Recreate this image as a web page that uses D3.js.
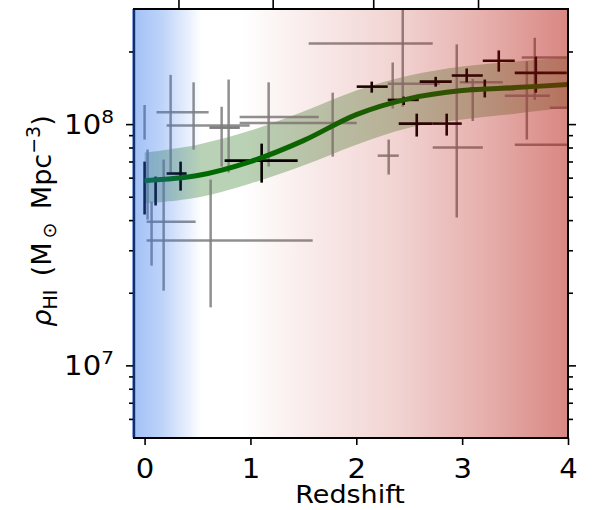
<!DOCTYPE html>
<html>
<head>
<meta charset="utf-8">
<script src="https://cdn.jsdelivr.net/npm/d3@7"></script>
<style>
body{margin:0;background:#fff}
text{font-family:"DejaVu Sans",sans-serif;fill:#000}
</style>
</head>
<body>
<svg id="chart" width="593" height="510"></svg>
<script>
// model curve + 1 sigma band (rho in units of 1e7 Msun/Mpc^3)
var curveZ   = [0, 0.5, 1.0, 1.5, 2.0, 2.5, 3.0, 3.5, 4.0];
var curveRho = [5.83, 6.12, 6.99, 8.54, 10.95, 12.76, 13.77, 14.17, 14.58];
var bandHi   = [7.62, 8.22, 9.40, 11.27, 13.77, 15.89, 17.31, 18.16, 18.87];
var bandLo   = [4.68, 4.96, 5.67, 6.73, 8.22, 9.67, 10.44, 11.05, 11.71];

// [z, zlo, zhi, rho, rholo, rhohi]
var greyPoints = [
  [0, 0, 0, 10.3, 8.63, 12.0],
  [0.028, 0.028, 0.028, 5.72, 4.02, 7.84],
  [0.066, 0.019, 0.482, 3.94, 2.59, 4.77],
  [0.18, 0.18, 0.18, 3.94, 2.04, 7.13],
  [0.246, 0.113, 0.605, 11.2, 6.30, 16.0],
  [0.463, 0.208, 0.992, 9.86, 7.84, 14.9],
  [0.624, 0.019, 1.588, 3.29, 1.74, 5.89],
  [0.728, 0.614, 0.898, 9.67, 6.67, 11.8],
  [0.794, 0.614, 0.898, 9.67, 6.30, 15.3],
  [1.172, 0.898, 1.645, 10.7, 6.67, 14.9],
  [1.777, 0.898, 2.004, 10.1, 7.33, 13.5],
  [2.439, 1.55, 2.722, 21.6, 11.8, 34.0],
  [2.344, 2.297, 2.788, 14.7, 11.6, 18.0],
  [2.306, 2.202, 2.401, 7.40, 6.18, 8.63],
  [2.949, 2.722, 3.195, 7.99, 4.10, 21.4],
  [3.1, 2.977, 3.384, 14.9, 10.3, 15.4],
  [3.611, 3.403, 3.828, 13.1, 8.63, 18.2],
  [3.686, 3.563, 3.989, 18.9, 12.6, 22.8],
  [3.743, 3.497, 4.2, 8.22, 8.22, 8.22],
  [4.05, 3.828, 4.3, 11.7, 9.5, 14.0]
];

var blackPoints = [
  [0, 0, 0, 5.46, 4.22, 6.99],
  [0.104, 0.104, 0.104, 5.25, 4.60, 6.06],
  [0.34, 0.208, 0.397, 6.24, 5.30, 6.99],
  [1.106, 0.756, 1.446, 7.06, 5.72, 8.30],
  [2.146, 2.004, 2.297, 14.3, 13.5, 15.0],
  [2.448, 2.297, 2.59, 12.6, 12.0, 13.0],
  [2.75, 2.599, 2.902, 15.0, 14.3, 15.7],
  [3.043, 2.902, 3.195, 15.9, 14.9, 17.0],
  [3.346, 3.195, 3.497, 18.3, 16.5, 20.2],
  [3.696, 3.497, 3.989, 16.3, 13.5, 19.05],
  [3.214, 3.072, 3.497, 14.0, 12.9, 15.3],
  [2.571, 2.401, 2.722, 10.05, 8.88, 11.05],
  [2.854, 2.722, 2.996, 10.05, 8.96, 11.05]
];

var xTicks = [0, 1, 2, 3, 4];
var yMajor = [1e7, 1e8];
var yMajorExp = ["7", "8"];
var yMinor = [6e6, 7e6, 8e6, 9e6, 2e7, 3e7, 4e7, 5e7, 6e7, 7e7, 8e7, 9e7, 2e8];
var topTicksZ = [0.32, 1.21, 2.16, 3.15];

var svg = d3.select("#chart");
var x = d3.scaleLinear().domain([-0.1, 4.0]).range([134, 568]);
var y = d3.scaleLog().domain([5e6, 3e8]).range([438, 9]);
var E7 = 1e7;

var defs = svg.append("defs");
defs.append("clipPath").attr("id", "plotclip")
  .append("rect").attr("x", 134).attr("y", 9).attr("width", 434).attr("height", 429);

// colour wash over the plot
var grad = defs.append("linearGradient").attr("id", "zgrad")
  .attr("x1", 0).attr("x2", 1).attr("y1", 0).attr("y2", 0);
var stops = [
  [0.00, "rgb(40,110,235)", 0.44],
  [0.07, "rgb(40,110,235)", 0.30],
  [0.16, "rgb(40,110,235)", 0.0],
  [0.25, "rgb(180,20,10)", 0.0],
  [0.40, "rgb(180,20,10)", 0.08],
  [0.60, "rgb(180,20,10)", 0.18],
  [0.80, "rgb(180,20,10)", 0.33],
  [1.00, "rgb(180,20,10)", 0.51]
];
stops.forEach(function(s){
  grad.append("stop").attr("offset", s[0]).attr("stop-color", s[1]).attr("stop-opacity", s[2]);
});

// left spine first, it gets tinted by the wash
svg.append("line").attr("x1", 134).attr("x2", 134).attr("y1", 9).attr("y2", 438)
  .attr("stroke", "#000").attr("stroke-width", 2.4);

var plot = svg.append("g").attr("clip-path", "url(#plotclip)");

var curveData = curveZ.map(function(z, i){ return {z: z, m: curveRho[i], lo: bandLo[i], hi: bandHi[i]}; });

plot.append("path").datum(curveData)
  .attr("d", d3.area().curve(d3.curveCatmullRom)
    .x(function(d){ return x(d.z); })
    .y0(function(d){ return y(d.lo * E7); })
    .y1(function(d){ return y(d.hi * E7); }))
  .attr("fill", "rgb(60,130,50)").attr("fill-opacity", 0.36);

function crosses(data, colour, width, opacity){
  var g = plot.append("g").attr("stroke", colour).attr("stroke-width", width).attr("stroke-opacity", opacity);
  g.selectAll(".h").data(data).enter().append("line")
    .attr("x1", function(d){ return x(d[1]); })
    .attr("x2", function(d){ return x(d[2]); })
    .attr("y1", function(d){ return y(d[3] * E7); })
    .attr("y2", function(d){ return y(d[3] * E7); });
  g.selectAll(".v").data(data).enter().append("line")
    .attr("x1", function(d){ return x(d[0]); })
    .attr("x2", function(d){ return x(d[0]); })
    .attr("y1", function(d){ return y(d[4] * E7); })
    .attr("y2", function(d){ return y(d[5] * E7); });
}
crosses(greyPoints, "#7d7d7d", 2.5, 0.85);
crosses(blackPoints, "#000", 2.6, 1);

plot.append("path").datum(curveData)
  .attr("d", d3.line().curve(d3.curveCatmullRom)
    .x(function(d){ return x(d.z); })
    .y(function(d){ return y(d.m * E7); }))
  .attr("fill", "none").attr("stroke", "#006a00").attr("stroke-width", 5);

svg.append("rect").attr("x", 132).attr("y", 9).attr("width", 436).attr("height", 428)
  .attr("fill", "url(#zgrad)");

// spines drawn on top
svg.append("line").attr("x1", 133).attr("x2", 569).attr("y1", 438).attr("y2", 438)
  .attr("stroke", "#000").attr("stroke-width", 2);
svg.append("line").attr("x1", 133).attr("x2", 569).attr("y1", 9).attr("y2", 9)
  .attr("stroke", "#000").attr("stroke-width", 2);
svg.append("line").attr("x1", 568).attr("x2", 568).attr("y1", 9).attr("y2", 438)
  .attr("stroke", "#000").attr("stroke-width", 2);

function styleAxis(g){
  g.select(".domain").remove();
  g.selectAll("line").attr("stroke", "#000").attr("stroke-width", 1.6);
}

// bottom axis
var xa = svg.append("g").attr("transform", "translate(0,438)")
  .call(d3.axisBottom(x).tickValues(xTicks).tickSize(7).tickFormat(d3.format("d")));
styleAxis(xa);
xa.selectAll("text").attr("dy", null).attr("y", 40)
  .attr("font-size", 26).attr("transform", "scale(1.12,1)").style("font-family", "DejaVu Sans");

// top ticks (labels are off the picture)
var ta = svg.append("g").attr("transform", "translate(0,9)")
  .call(d3.axisTop(x).tickValues(topTicksZ).tickSize(10).tickFormat(""));
styleAxis(ta);

// left / right
var la = svg.append("g").attr("transform", "translate(133,0)")
  .call(d3.axisLeft(y).tickValues(yMinor).tickSize(4).tickFormat(""));
styleAxis(la);
var lm = svg.append("g").attr("transform", "translate(133,0)")
  .call(d3.axisLeft(y).tickValues(yMajor).tickSize(7).tickFormat(""));
styleAxis(lm);
var ra = svg.append("g").attr("transform", "translate(569,0)")
  .call(d3.axisRight(y).tickValues(yMinor).tickSize(4).tickFormat(""));
styleAxis(ra);
var rm = svg.append("g").attr("transform", "translate(569,0)")
  .call(d3.axisRight(y).tickValues(yMajor).tickSize(7).tickFormat(""));
styleAxis(rm);

yMajor.forEach(function(v, i){
  var t = svg.append("g").attr("transform", "translate(114," + (y(v) + 10) + ") scale(1.12,1)")
    .append("text").attr("text-anchor", "end").attr("font-size", 26);
  t.append("tspan").text("10");
  t.append("tspan").attr("font-size", 18).attr("dy", -11).text(yMajorExp[i]);
});

svg.append("text").attr("transform", "translate(350,503) scale(1.08,1)")
  .attr("text-anchor", "middle").attr("font-size", 25).text("Redshift");

var lab = svg.append("text").attr("transform", "translate(51,221) rotate(-90)")
  .attr("text-anchor", "middle").attr("font-size", 27);
lab.append("tspan").attr("font-style", "italic").text("ρ");
lab.append("tspan").attr("font-size", 19).attr("dy", 6).text("HI");
lab.append("tspan").attr("dy", -6).text("\u2002(M");
lab.append("tspan").attr("font-size", 19).attr("dy", 5).text("\u2009⊙");
lab.append("tspan").attr("dy", -5).text("\u2002Mpc");
lab.append("tspan").attr("font-size", 19).attr("dy", -11).text("−3");
lab.append("tspan").attr("dy", 11).text(")");
</script>
</body>
</html>
